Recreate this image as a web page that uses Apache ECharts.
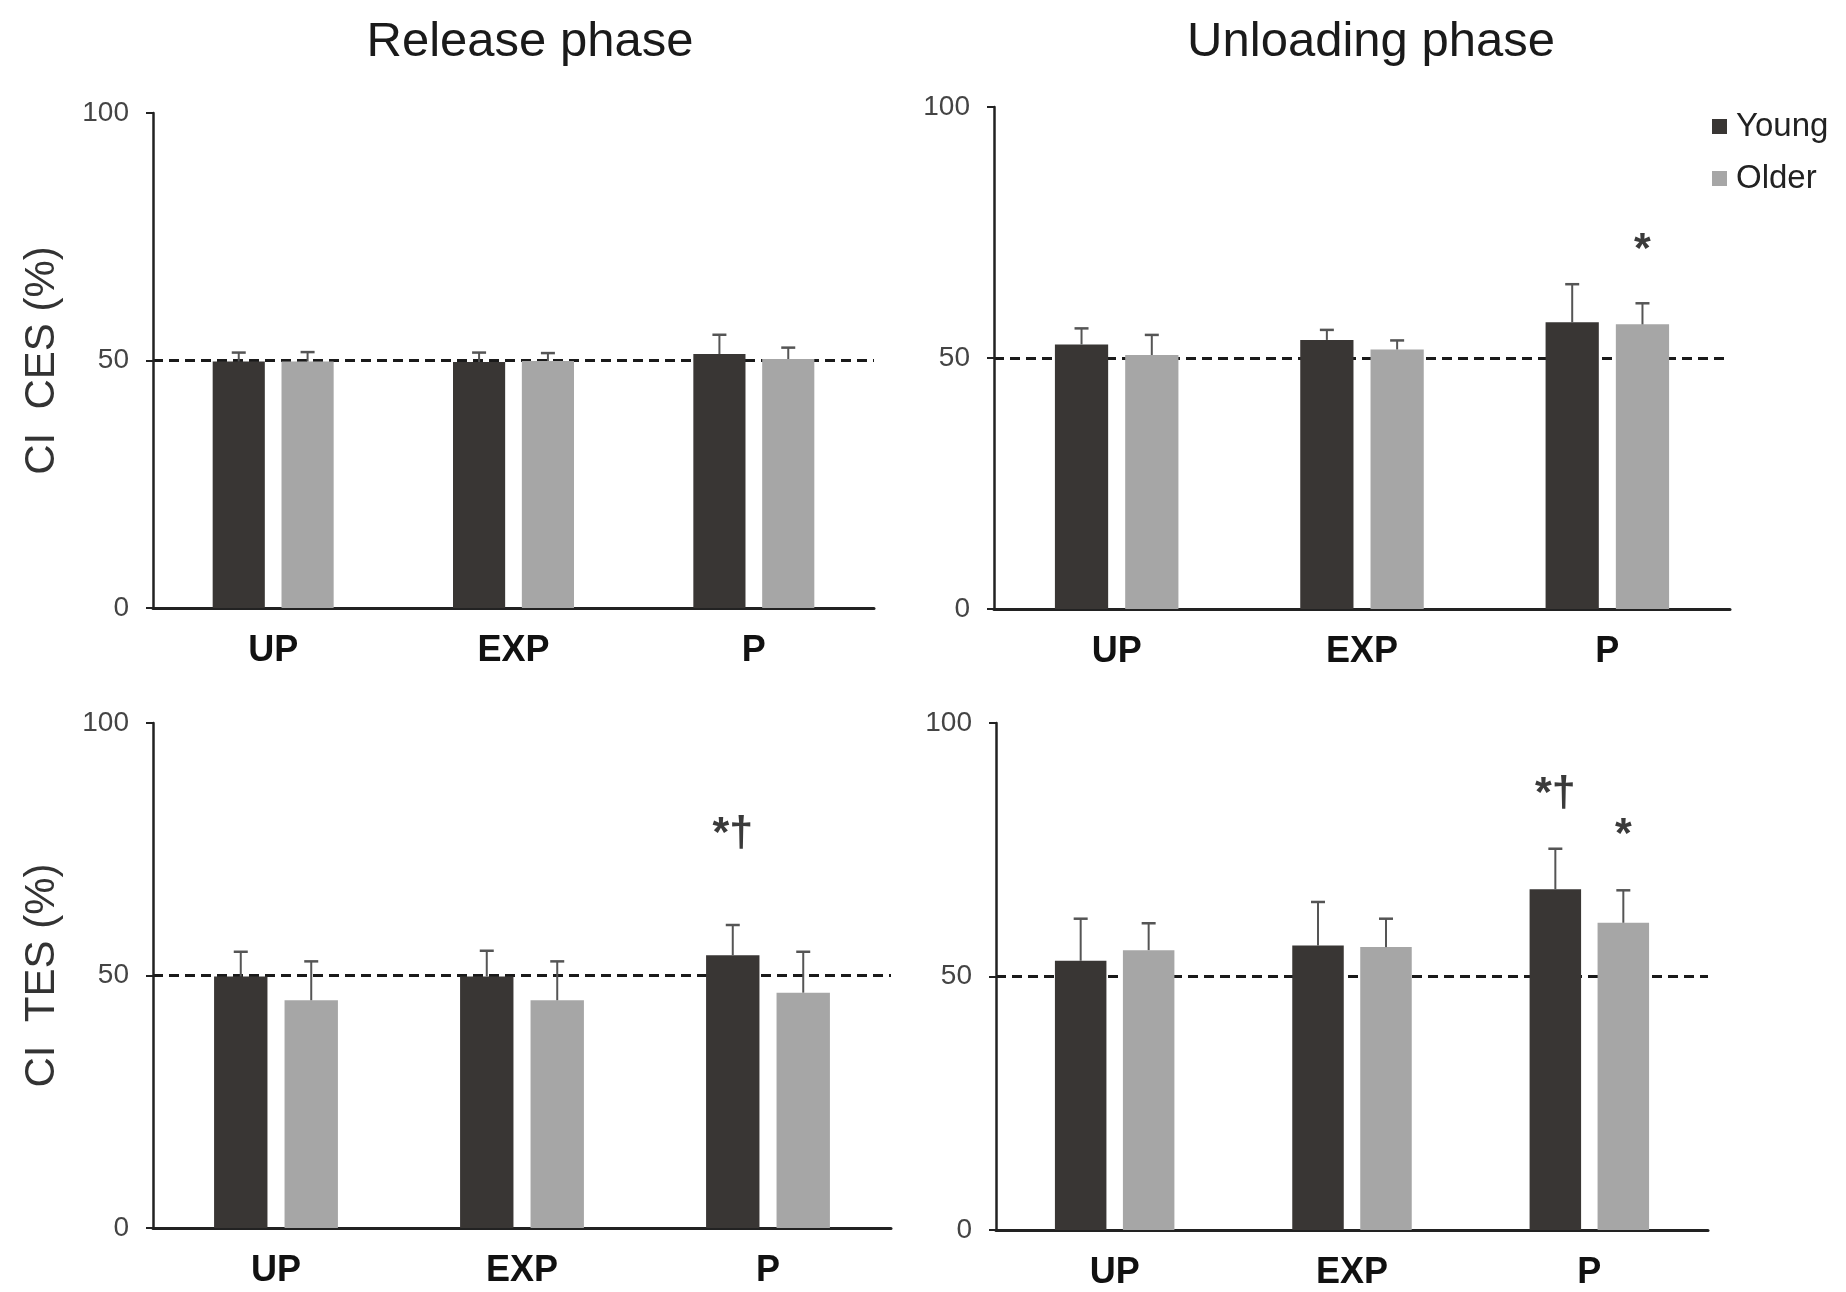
<!DOCTYPE html>
<html>
<head>
<meta charset="utf-8">
<style>
  html, body { margin: 0; padding: 0; background: #fff; }
  #chart { width: 1846px; height: 1292px; }
</style>
</head>
<body>
<div id="chart"></div>
<script src="https://cdn.jsdelivr.net/npm/echarts@6/dist/echarts.min.js"></script>
<script>
const categories = ['UP', 'EXP', 'P']
const groups = ['Young', 'Older']
const yTicks = [0, 50, 100]

// release phase, CI CES
const relCesYoung = [49.8, 49.7, 51.3]
const relCesYoungSd = [1.8, 1.9, 3.9]
const relCesOlder = [49.8, 49.9, 50.3]
const relCesOlderSd = [1.9, 1.6, 2.3]
// unloading phase, CI CES
const unlCesYoung = [52.7, 53.6, 57.1]
const unlCesYoungSd = [3.2, 2.0, 7.6]
const unlCesOlder = [50.6, 51.7, 56.7]
const unlCesOlderSd = [4.0, 1.8, 4.2]
// release phase, CI TES
const relTesYoung = [49.8, 49.8, 54.0]
const relTesYoungSd = [4.9, 5.1, 6.0]
const relTesOlder = [45.1, 45.1, 46.6]
const relTesOlderSd = [7.7, 7.7, 8.1]
// unloading phase, CI TES
const unlTesYoung = [53.1, 56.1, 67.2]
const unlTesYoungSd = [8.3, 8.6, 8.0]
const unlTesOlder = [55.2, 55.8, 60.6]
const unlTesOlderSd = [5.3, 5.6, 6.4]

// significance marks: [category, group, y value, text]
const relCesMarks = []
const unlCesMarks = [['P', 'Older', 71.5, '*']]
const relTesMarks = [['P', 'Young', 78, '*†']]
const unlTesMarks = [['P', 'Young', 86, '*†'], ['P', 'Older', 77.8, '*']]

const FONT = 'Liberation Sans, Arial, sans-serif'
const YOUNG_COLOR = '#393634'
const OLDER_COLOR = '#a6a6a6'
const BAR_W = 0.217
const BAR_GAP = 0.32
const HALF_STEP = BAR_W * (1 + BAR_GAP) / 2

const panels = [
  { grid: { left: 153, right: 972, top: 113, bottom: 684 }, yName: 'CI  CES (%)',
    young: relCesYoung, youngSd: relCesYoungSd, older: relCesOlder, olderSd: relCesOlderSd, marks: relCesMarks },
  { grid: { left: 994, right: 116, top: 107, bottom: 683 }, yName: '',
    young: unlCesYoung, youngSd: unlCesYoungSd, older: unlCesOlder, olderSd: unlCesOlderSd, marks: unlCesMarks },
  { grid: { left: 153, right: 955, top: 723, bottom: 64 }, yName: 'CI  TES (%)',
    young: relTesYoung, youngSd: relTesYoungSd, older: relTesOlder, olderSd: relTesOlderSd, marks: relTesMarks },
  { grid: { left: 996, right: 138, top: 723, bottom: 62 }, yName: '',
    young: unlTesYoung, youngSd: unlTesYoungSd, older: unlTesOlder, olderSd: unlTesOlderSd, marks: unlTesMarks }
]

function errorItem (sign) {
  return function (params, api) {
    const band = api.size([1, 0])[0]
    const base = api.coord([api.value(0), api.value(1)])
    const top = api.coord([api.value(0), api.value(1) + api.value(2)])
    const x = base[0] + sign * band * HALF_STEP
    return {
      type: 'group',
      children: [
        { type: 'line', shape: { x1: x, y1: base[1], x2: x, y2: top[1] }, style: { stroke: '#555', lineWidth: 2 } },
        { type: 'line', shape: { x1: x - 7, y1: top[1], x2: x + 7, y2: top[1] }, style: { stroke: '#555', lineWidth: 2.5 } }
      ]
    }
  }
}

function markItem (marks) {
  return function (params, api) {
    const m = marks[params.dataIndex]
    const band = api.size([1, 0])[0]
    const p = api.coord([api.value(0), api.value(1)])
    const sign = m[1] === 'Young' ? -1 : 1
    return {
      type: 'text',
      x: p[0] + sign * band * HALF_STEP,
      y: p[1],
      style: { text: m[3], fontSize: 43, fontWeight: 'bold', fontFamily: FONT, fill: '#3a3a3a', align: 'center', verticalAlign: 'middle' }
    }
  }
}

const grids = []
const xAxes = []
const yAxes = []
const series = []

panels.forEach(function (pn, i) {
  grids.push(Object.assign({ outerBoundsMode: 'none', containLabel: false }, pn.grid))
  xAxes.push({
    type: 'category',
    gridIndex: i,
    data: categories,
    axisLine: { lineStyle: { color: '#222', width: 3 } },
    axisTick: { show: false },
    axisLabel: { fontSize: 36, fontWeight: 'bold', color: '#111', fontFamily: FONT, margin: 25 }
  })
  yAxes.push({
    type: 'value',
    gridIndex: i,
    min: yTicks[0],
    max: yTicks[yTicks.length - 1],
    interval: 50,
    name: pn.yName,
    nameLocation: 'middle',
    nameRotate: 90,
    nameGap: 90,
    nameTextStyle: { fontSize: 42, color: '#333', fontFamily: FONT },
    axisLine: { show: true, lineStyle: { color: '#222', width: 2.5 } },
    axisTick: { show: true, length: 7, lineStyle: { color: '#222', width: 2 } },
    axisLabel: { fontSize: 28, color: '#444', fontFamily: FONT, margin: 24 },
    // only the 50% line is drawn, dashed
    splitLine: { show: true, lineStyle: { color: ['rgba(0,0,0,0)', '#1a1a1a', 'rgba(0,0,0,0)'], type: [10, 6], width: 3 } }
  })
  series.push({
    name: 'Young', type: 'bar', xAxisIndex: i, yAxisIndex: i,
    barWidth: (BAR_W * 100) + '%', barGap: (BAR_GAP * 100) + '%',
    itemStyle: { color: YOUNG_COLOR },
    data: pn.young
  })
  series.push({
    name: 'Older', type: 'bar', xAxisIndex: i, yAxisIndex: i,
    barWidth: (BAR_W * 100) + '%', barGap: (BAR_GAP * 100) + '%',
    itemStyle: { color: OLDER_COLOR },
    data: pn.older
  })
  series.push({
    type: 'custom', xAxisIndex: i, yAxisIndex: i, z: 3,
    renderItem: errorItem(-1),
    data: categories.map(function (c, k) { return [k, pn.young[k], pn.youngSd[k]] })
  })
  series.push({
    type: 'custom', xAxisIndex: i, yAxisIndex: i, z: 3,
    renderItem: errorItem(1),
    data: categories.map(function (c, k) { return [k, pn.older[k], pn.olderSd[k]] })
  })
  if (pn.marks.length) {
    series.push({
      type: 'custom', xAxisIndex: i, yAxisIndex: i, z: 4,
      renderItem: markItem(pn.marks),
      data: pn.marks.map(function (m) { return [categories.indexOf(m[0]), m[2]] })
    })
  }
})

const chart = echarts.init(document.getElementById('chart'))
chart.setOption({
  backgroundColor: '#fff',
  animation: false,
  textStyle: { fontFamily: FONT },
  legend: {
    data: groups,
    orient: 'vertical',
    left: 1707,
    top: 105,
    itemWidth: 15,
    itemHeight: 15,
    itemGap: 19,
    icon: 'rect',
    textStyle: { fontSize: 33, color: '#222', lineHeight: 32, fontFamily: FONT, padding: [0, 0, 0, 4] }
  },
  graphic: [
    { type: 'text', x: 530, y: 42, style: { text: 'Release phase', fontSize: 49, fontFamily: FONT, fill: '#1a1a1a', align: 'center', verticalAlign: 'middle' } },
    { type: 'text', x: 1371, y: 42, style: { text: 'Unloading phase', fontSize: 49, fontFamily: FONT, fill: '#1a1a1a', align: 'center', verticalAlign: 'middle' } }
  ],
  grid: grids,
  xAxis: xAxes,
  yAxis: yAxes,
  series: series
})
window.onresize = function () {
  chart.resize()
}
</script>
</body>
</html>
